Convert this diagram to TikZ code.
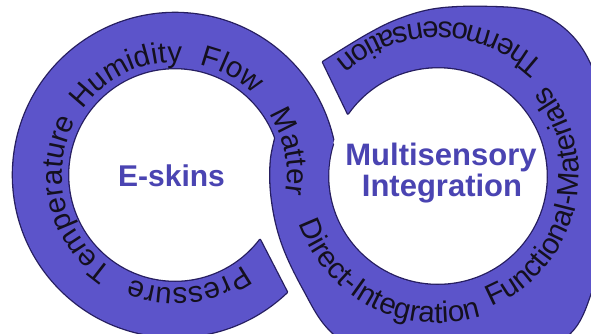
\documentclass[tikz,border=0pt]{standalone}
\usepackage{fontspec}
\setmainfont{Liberation Sans}
\usetikzlibrary{decorations.text}

\definecolor{bandfill}{RGB}{92,84,202}
\definecolor{bandedge}{RGB}{38,30,96}
\definecolor{hubink}{RGB}{74,68,178}
\definecolor{ringink}{RGB}{20,16,30}

% one word set along a circular arc: centre, start angle, end angle, radius, text
\newcommand\ringfont{\fontsize{29.5}{29.5}\selectfont}
\newcommand\ringword[5]{%
  \path[decorate,decoration={text along path,text align=center,
        text color=ringink,text={|\ringfont|#5}}]
    (#1) ++(#2:#4) arc[start angle=#2,end angle=#3,radius=#4];}

\begin{document}
\begin{tikzpicture}[x=1pt,y=-1pt,
  edge/.style={draw=bandedge,line width=2.6pt,line join=round},
  body/.style={fill=bandfill},
  hub/.style={font=\fontsize{31}{31}\selectfont\bfseries,text=hubink,inner sep=0pt},
  leftloop/.style={insert path={
    (L) ++(46.3:162) arc[start angle=46.3,end angle=360,radius=162]
    -- ++(-55,0) arc[start angle=360,end angle=37.4,radius=107] -- cycle}},
  rightloop/.style={insert path={
    plot[smooth,tension=0.6] coordinates {(279,125) (271,160) (272,200) (282,243)
      (303,288) (330,330) (375,360) (450,372) (525,358) (570,333) (591,292)
      (606,230) (610,165) (603,105) (587,58) (563,28) (530,11) (485,7)
      (437,9) (400,19) (367,35) (323,62)}
    -- (347.9,113.5) arc[start angle=-145,end angle=197,x radius=110,y radius=109]
    -- cycle}},
  notinner/.style={insert path={
    (-50,-50) -- (700,-50) -- (700,420) -- (-50,420) -- cycle
    (R) ++(360:110 and 109) arc[start angle=360,end angle=0,x radius=110,y radius=109] -- cycle}}]

\useasboundingbox (0,0) rectangle (591,333);
\fill[white] (0,0) rectangle (591,333);
\clip (0,0) rectangle (591,333);

\coordinate (L) at (175,175);
\coordinate (R) at (438,176);

% outlines first, then the fills cover their inner halves
\begin{scope}
  \clip[notinner];
  \path[edge,leftloop];
\end{scope}
\path[edge,rightloop];
\begin{scope}
  \clip[notinner];
  \path[body,leftloop];
\end{scope}
\path[body,rightloop];

% words running round the band
\ringword{L}{23}{143}{113}{Pressure}
\ringword{L}{106}{226}{113}{Temperature}
\ringword{L}{184.5}{304.5}{113}{Humidity}
\ringword{L}{238.5}{358.5}{113}{Flow}
\ringword{L}{288.5}{408.5}{112}{Matter}
\ringword{R}{177}{57}{147}{Direct-Integration}
\ringword{R}{74}{-46}{141}{Functional-Materials}
\ringword{R}{-29}{-149}{154}{Thermosensation}

% titles in the two loops
\node[hub,anchor=base,font=\fontsize{30}{30}\selectfont\bfseries] (eskins) at (171.5,186) {E-skins};
\node[hub,anchor=base] (multi) at (441,165) {Multisensory};
\node[hub,anchor=base] (integ) at (442,196) {Integration};
\end{tikzpicture}
\end{document}
